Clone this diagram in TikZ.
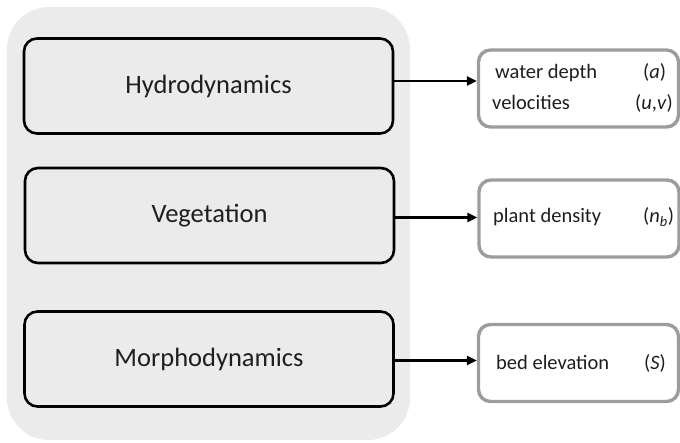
\documentclass[tikz,border=0pt]{standalone}
\usepackage{fontspec}
\setmainfont{Carlito}
\usepackage{xcolor}
\usetikzlibrary{positioning,calc,arrows.meta}
\definecolor{PanelGray}{HTML}{EBEBEB}
\definecolor{FrameGray}{HTML}{9C9C9C}
\definecolor{InkGray}{HTML}{1E1E1E}

\begin{document}
\begin{tikzpicture}[x=1pt,y=1pt,
  process/.style={draw=black, line width=2.6pt, rounded corners=13pt,
    minimum width=369pt, minimum height=95pt, text=InkGray,
    font=\fontsize{26.5}{30}\selectfont},
  output/.style={draw=FrameGray, fill=white, line width=3.4pt, rounded corners=12pt,
    minimum width=200pt, minimum height=77pt},
  var/.style={anchor=base west, inner sep=0pt, text=InkGray,
    font=\fontsize{20.5}{24}\selectfont},
  flow/.style={line width=2.4pt, -{Triangle[length=10pt,width=9pt]}}]
\useasboundingbox (0,0) rectangle (680,443);

% Grey panel behind the three modules
\fill[PanelGray, rounded corners=42pt] (7,3) rectangle (410,436);

% Modules
\node[process] (hydro) at (208.5,357) {Hydrodynamics};
\node[process] (veg)   at (209.5,227.5) {Vegetation};
\node[process] (morph) at (209,84) {Morphodynamics};

% State variables
\node[output] (depth) at (578.5,354.5) {};
\node[output] (plant) at (579,224.5) {};
\node[output] (bed)   at (578.5,80) {};

\node[var] (depthtxt) at (495,364) {water depth};
\node[var] (depthsym) at (643,364) {(\textit{a})};
\node[var] (veltxt)   at (492,333) {velocities};
\node[var] (velsym)   at (635,333) {(\textit{u},\textit{v})};
\node[var] (planttxt) at (493,220) {plant density};
\node[var] (plantsym) at (643,220) {(\textit{n}\textsubscript{\textit{b}})};
\node[var] (bedtxt)   at (496,73) {bed elevation};
\node[var] (bedsym)   at (644,73) {(\textit{S})};

% Coupling arrows
\draw[flow] ([yshift=5pt]hydro.east) -- ([yshift=5pt]hydro.east -| depth.west);
\draw[flow] ([yshift=-2pt]veg.east) -- ([yshift=-2pt]veg.east -| plant.west);
\draw[flow] ([yshift=-1.5pt]morph.east) -- ([yshift=-1.5pt]morph.east -| bed.west);
\end{tikzpicture}
\end{document}
